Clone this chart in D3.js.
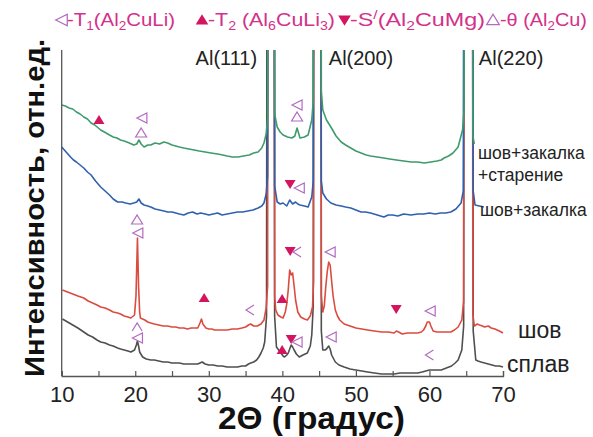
<!DOCTYPE html>
<html lang="ru">
<head>
<meta charset="UTF-8">
<title>XRD</title>
<script src="https://d3js.org/d3.v7.min.js"></script>
<style>
  body { margin: 0; background: #fff; }
  svg { font-family: "Liberation Sans", Arial, sans-serif; }
</style>
</head>
<body>
<script>
// 2Θ (deg), intensity (rel. units); 1000 = peak off scale
const green = [[10,271],[10.5,270],[11,268],[11.5,267],[12,264],[12.5,262],[13,259],[13.5,257],[14,253],[14.5,251],[15.3,246],[15.8,244],[16.5,241],[17,239],[17.5,238],[18,236],[18.5,235],[19.2,233],[19.8,231],[20.2,232],[20.5,236],[20.8,232],[21.2,229],[21.7,231],[22.1,231],[22.7,233],[23.3,232],[23.9,234],[24.4,233],[25,231],[25.5,230],[26,229],[26.6,228],[27.3,227],[28,226],[28.7,225],[29.5,224],[30.3,223],[31.2,222],[31.9,221],[32.5,220],[33.2,219],[34,219],[34.7,220],[35.5,221],[36.1,223],[36.7,224],[37.2,228],[37.5,233],[37.8,242],[38.0,258],[38.1,1000],[38.8,1000],[38.95,262],[39.3,249],[39.7,244],[40.1,241],[40.7,239],[41.3,238],[41.7,240],[42.0,248],[42.2,243],[42.4,238],[43.0,239],[43.5,241],[44.0,256],[44.2,275],[44.35,1000],[45.15,1000],[45.3,285],[45.5,266],[46.0,256],[46.6,249],[47.3,240],[48,234],[48.6,231],[49.3,228],[50,225],[50.7,223],[51.4,221],[52,220],[52.9,219],[53.8,218],[54.6,217],[55.5,216],[56.5,215],[57.5,214],[58.4,214],[59.3,213],[60.2,214],[61,215],[61.6,216],[62,218],[62.6,220],[63.2,223],[63.9,229],[64.5,246],[64.7,265],[64.85,1000],[65.75,1000],[65.9,240],[66.1,232]];
const blue = [[10,229],[10.6,224],[11.2,219],[11.6,216],[12,214],[12.5,211],[13,208],[13.5,204],[14,201],[14.6,195],[15.3,189],[15.9,185],[16.5,181],[17,177],[17.6,174],[18.2,174],[18.7,173],[19.3,172],[19.8,173],[20.2,174],[20.5,177],[20.8,173],[21.2,171],[21.7,170],[22.1,169],[22.7,167],[23.3,166],[23.9,165],[24.4,164],[25,164],[25.5,163],[26,162],[26.6,161],[27.2,163],[27.8,164],[28.4,162],[28.9,163],[29.5,162],[30,161],[30.6,162],[31.2,163],[31.8,161],[32.5,162],[33.2,163],[33.9,164],[34.6,164],[35.3,165],[36,166],[36.7,168],[37.2,170],[37.5,173],[37.8,182],[38.0,200],[38.1,1000],[38.82,1000],[38.95,190],[39.3,174],[39.7,172],[40.1,173],[40.6,170],[41.0,176],[41.4,172],[41.8,174],[42.1,172],[42.4,171],[43.0,170],[43.5,169],[44.0,179],[44.2,195],[44.35,1000],[45.15,1000],[45.3,195],[45.5,183],[46.0,177],[46.6,173],[47.3,171],[48,170],[48.6,169],[49.3,168],[50,166],[50.7,164],[51.3,164],[52,163],[52.9,161],[53.8,159],[54.4,161],[55,161],[55.7,160],[56.5,162],[57.5,161],[58.4,162],[59.2,162],[60,163],[60.8,162],[61.5,163],[62.2,163],[62.9,164],[63.6,167],[64.3,173],[64.6,185],[64.8,1000],[65.8,1000],[65.95,185],[66.2,171],[66.8,170],[67.4,169]];
const red = [[10.1,86],[10.8,84],[11.5,82],[12.2,80],[13,78],[13.6,75],[14.2,73],[14.8,71],[15.3,69],[15.9,68],[16.5,66],[17,64],[17.6,63],[18,62],[18.5,60],[19,59],[19.4,58],[19.9,61],[20.1,80],[20.3,138],[20.45,90],[20.6,64],[20.7,58],[21.3,56],[21.7,54],[22.1,53],[22.6,52],[23.2,51],[23.8,50],[24.4,50],[25,49],[25.5,49],[26,48],[26.6,48],[27.1,47],[27.6,48],[28.1,48],[28.5,48],[28.8,53],[29.0,57],[29.2,52],[29.6,48],[30,47],[30.4,47],[30.8,46],[31.2,46],[31.8,46],[32.5,46],[33.2,47],[33.9,47],[34.5,48],[35,49],[35.4,51],[35.7,52],[36.1,50],[36.6,50],[37.1,52],[37.5,56],[37.8,68],[38.0,90],[38.08,1000],[38.85,1000],[38.95,80],[39.1,66],[39.4,61],[39.8,59],[40.1,58],[40.4,64],[40.6,72],[40.8,86],[41.0,106],[41.2,101],[41.4,103],[41.6,90],[41.8,76],[42.1,64],[42.5,59],[43.0,57],[43.4,56],[43.8,60],[44.1,69],[44.25,95],[44.33,1000],[45.2,1000],[45.3,80],[45.5,64],[45.7,70],[45.9,89],[46.1,104],[46.3,114],[46.5,111],[46.7,95],[46.9,80],[47.2,66],[47.5,60],[47.8,56],[48.4,52],[49.2,50],[50,48],[50.8,47],[51.6,46],[52.5,45],[53.5,44],[54.4,44],[55.2,43],[55.5,45],[55.8,44],[56.3,42],[57,43],[57.5,43],[58.4,43],[58.9,44],[59.2,46],[59.5,50],[59.7,54],[60.0,54],[60.2,50],[60.5,45],[61,44],[61.5,44],[62.2,44],[62.9,44],[63.4,46],[63.9,49],[64.4,56],[64.65,75],[64.78,1000],[65.8,1000],[65.9,62],[66.1,50],[66.5,52],[66.8,51],[67.2,50],[67.5,49],[68,50],[68.4,48],[68.9,47],[69.5,45],[70,43]];
const grey = [[10.1,57],[10.8,54],[11.5,51],[12.2,48],[13,44],[13.6,41],[14.2,39],[14.8,36],[15.3,34],[15.9,33],[16.5,31],[17,30],[17.6,28],[18,27],[18.5,26],[19,25],[19.4,24],[19.9,26],[20.15,31],[20.3,35],[20.45,30],[20.6,24],[21,19],[21.5,17],[22.1,16],[22.6,16],[23.2,15],[23.8,14],[24.4,14],[25,13],[25.5,13],[26,13],[26.6,12],[27.2,12],[27.8,12],[28.5,12],[29.1,14],[29.5,12],[30,11],[30.6,11],[31.2,10],[31.8,10],[32.5,9],[33.2,9],[33.9,9],[34.5,10],[35,10],[35.4,12],[35.7,13],[36.1,14],[36.5,16],[36.8,19],[37.1,23],[37.4,28],[37.6,34],[37.85,60],[38.0,1000],[38.85,1000],[38.95,60],[39.2,29],[39.5,26],[39.8,23],[40.1,20],[40.3,19],[40.6,21],[40.8,23],[41.0,27],[41.2,31],[41.4,29],[41.6,26],[41.9,22],[42.3,19],[42.8,21],[43.4,23],[43.8,30],[44.0,41],[44.2,70],[44.3,1000],[45.2,1000],[45.3,45],[45.5,26],[45.8,26],[46.0,27],[46.3,30],[46.5,27],[46.7,21],[47.2,14],[47.7,11],[48.4,9],[49.2,7],[50,6],[50.8,5],[51.6,4],[52.5,3],[53.5,2],[54.4,2],[55.2,2],[56,3],[57,3],[57.7,3],[58.4,3],[59,4],[59.5,5],[60,6],[60.5,6],[61,6],[61.6,6],[62.3,8],[63,10],[63.5,13],[63.9,16],[64.4,26],[64.65,50],[64.75,1000],[65.85,1000],[65.95,45],[66.3,16],[66.6,15],[67,14],[67.5,13],[68,12],[68.5,11],[69,10],[69.5,10],[70,9]];

// phase markers: 2Θ, intensity, kind
const markers = [
  [15.07,256,"fu"],[20.9,258,"tl"],[20.8,243,"tu"],[42.0,271,"tl"],[42.0,259,"tu"],
  [41.05,192,"fd"],[42.3,188,"tl"],
  [20.25,156,"tu"],[20.35,143,"tl"],[29.37,78,"fu"],[35.6,66,"lt"],[39.97,77,"fu"],
  [41.06,125,"fd"],[42.0,124,"lt"],[46.5,124,"tl"],[55.48,67,"fd"],[60.1,65,"tl"],
  [20.26,49,"ca"],[20.3,38,"tl"],[39.97,26,"fu"],[41.2,37,"fd"],[42.0,34,"tl"],
  [46.64,39,"tl"],[60.0,21,"lt"]
];

const xTicks = [10, 20, 30, 40, 50, 60, 70];
const xMinor = [15, 25, 35, 45, 55, 65];
const alPeaks = [["Al(111)", 38.2, "end"], ["Al(200)", 45.5, "start"], ["Al(220)", 65.9, "start"]];

const W = 593, H = 437;
const svg = d3.select("body").append("svg").attr("width", W).attr("height", H);

const x = d3.scaleLinear().domain([10, 70]).range([61.7, 503]);
const y = d3.scaleLinear().domain([0, 326]).range([376, 50]);

svg.append("defs").append("clipPath").attr("id", "plot")
  .append("rect").attr("x", 61).attr("y", 50).attr("width", 443).attr("height", 326);

const line = d3.line().x(d => x(d[0])).y(d => y(d[1]));
const series = [
  {data: grey, color: "#4f4f4f"},
  {data: red, color: "#db4b3f"},
  {data: blue, color: "#2f61ad"},
  {data: green, color: "#3f9b6c"}
];
const plot = svg.append("g").attr("clip-path", "url(#plot)");
plot.selectAll("path.s").data(series).join("path")
  .attr("class", "s")
  .attr("d", d => line(d.data))
  .attr("fill", "none")
  .attr("stroke", d => d.color)
  .attr("stroke-width", 1.6)
  .attr("stroke-linejoin", "round");

// axes
const axisColor = "#555";
svg.append("line").attr("x1", x(10)).attr("x2", x(10)).attr("y1", 50).attr("y2", 376)
  .attr("stroke", axisColor).attr("stroke-width", 1.3);
const xAxis = d3.axisBottom(x).tickValues(xTicks.concat(xMinor)).tickSize(-5).tickPadding(10)
  .tickFormat(d => xTicks.includes(d) ? d : "");
const gx = svg.append("g").attr("transform", "translate(0,376)").call(xAxis);
gx.select(".domain").attr("stroke", axisColor).attr("stroke-width", 1.3);
gx.selectAll(".tick line").attr("stroke", axisColor).attr("stroke-width", 1.2);
gx.selectAll(".tick text").attr("font-size", 22).attr("fill", "#222")
  .attr("font-family", "Liberation Sans, Arial, sans-serif");

svg.append("text").attr("x", 218).attr("y", 429)
  .attr("font-size", 31).attr("font-weight", "bold").attr("fill", "#111")
  .attr("textLength", 187).attr("lengthAdjust", "spacingAndGlyphs")
  .text("2Θ (градус)");

svg.append("text").attr("transform", "translate(44,208) rotate(-90)")
  .attr("text-anchor", "middle").attr("font-size", 28).attr("font-weight", "bold")
  .attr("fill", "#111").attr("textLength", 338).attr("lengthAdjust", "spacingAndGlyphs")
  .text("Интенсивность, отн.ед.");

// Al reflection labels
svg.selectAll("text.al").data(alPeaks).join("text")
  .attr("class", "al")
  .attr("x", d => d[2] === "end" ? x(d[1]) - 12 : x(d[1]) + 6)
  .attr("y", 65).attr("text-anchor", d => d[2])
  .attr("font-size", 20).attr("fill", "#222").text(d => d[0]);

// series labels
const seriesLabels = [
  ["шов+закалка", 478, 159, 17.5], ["+старение", 478, 181, 17.5],
  ["шов+закалка", 480, 216, 17.5], ["шов", 518, 338, 23], ["сплав", 507, 372, 23]
];
svg.selectAll("text.sl").data(seriesLabels).join("text")
  .attr("class", "sl").attr("x", d => d[1]).attr("y", d => d[2])
  .attr("font-size", d => d[3]).attr("fill", "#222").text(d => d[0]);

// marker shapes
const openC = "#b26ac2", fillC = "#d4145e";
function shape(k) {
  switch (k) {
    case "tl": return "M-5,0L5,-5L5,5Z";
    case "tu": return "M0,-5L5.5,4L-5.5,4Z";
    case "fu": return "M0,-5L5.5,4L-5.5,4Z";
    case "fd": return "M0,5L5.5,-4L-5.5,-4Z";
    case "lt": return "M4,-5L-4,0L4,5";
    case "ca": return "M-5,4L0,-4L5,4";
  }
}
svg.selectAll("path.mk").data(markers).join("path")
  .attr("class", "mk")
  .attr("transform", d => `translate(${x(d[0])},${y(d[1])})`)
  .attr("d", d => shape(d[2]))
  .attr("fill", d => d[2][0] === "f" ? fillC : (d[2] === "lt" || d[2] === "ca" ? "none" : "#fff"))
  .attr("stroke", d => d[2][0] === "f" ? "none" : openC)
  .attr("stroke-width", 1.2);

// legend
const legendC = "#d3318a";
const legend = [
  {k: "tl", sx: 61.5, tx: 67, w: 108, parts: [["-T"], ["1", "sub"], ["(Al"], ["2", "sub"], ["CuLi)"]]},
  {k: "fu", sx: 202, tx: 208, w: 127, parts: [["-T"], ["2", "sub"], [" (Al"], ["6", "sub"], ["CuLi"], ["3", "sub"], [")"]]},
  {k: "fd", sx: 344.5, tx: 350, w: 135, parts: [["-S"], ["/", "sup"], ["(Al"], ["2", "sub"], ["CuMg)"]]},
  {k: "tu", sx: 493, tx: 500, w: 87, parts: [["-θ (Al"], ["2", "sub"], ["Cu)"]]}
];
legend.forEach(item => {
  svg.append("path").attr("transform", `translate(${item.sx},20) scale(1.15)`)
    .attr("d", shape(item.k))
    .attr("fill", item.k[0] === "f" ? fillC : "#fff")
    .attr("stroke", item.k[0] === "f" ? "none" : openC).attr("stroke-width", 1.1);
  const t = svg.append("text").attr("x", item.tx).attr("y", 26)
    .attr("font-size", 18).attr("fill", legendC)
    .attr("textLength", item.w).attr("lengthAdjust", "spacingAndGlyphs");
  let shift = 0;
  item.parts.forEach(p => {
    const target = p[1] === "sub" ? 4 : p[1] === "sup" ? -7 : 0;
    t.append("tspan").attr("dy", target - shift)
      .attr("font-size", p[1] ? 12 : 18).text(p[0]);
    shift = target;
  });
});
</script>
</body>
</html>
